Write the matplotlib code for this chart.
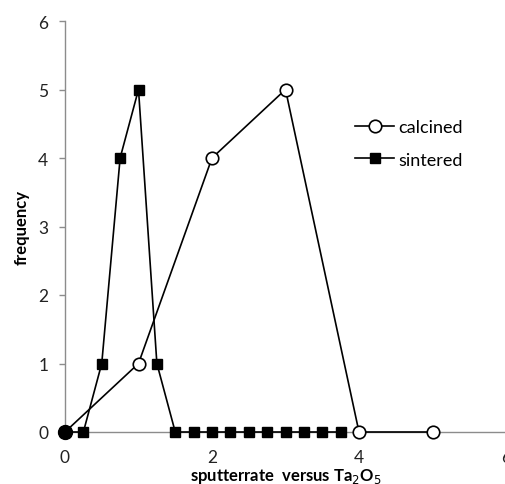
import matplotlib.pyplot as plt

# calcined series
calc_x = [0, 1, 2, 3, 4, 5]
calc_y = [0, 1, 4, 5, 0, 0]

# sintered series
sint_x = [0, 0.25, 0.5, 0.75, 1, 1.25, 1.5, 1.75, 2, 2.25, 2.5, 2.75, 3, 3.25, 3.5, 3.75]
sint_y = [0, 0, 1, 4, 5, 1, 0, 0, 0, 0, 0, 0, 0, 0, 0, 0]

xticks = [0, 2, 4, 6]
yticks = [0, 1, 2, 3, 4, 5, 6]

plt.rcParams['font.family'] = ['Lato', 'DejaVu Sans']

fig = plt.figure(figsize=(5.05, 4.85), dpi=100)
ax = fig.add_axes([65 / 505, 52 / 485, 441 / 505, 411 / 485])

ax.plot(calc_x, calc_y, color='black', lw=1.2, marker='o', ms=9,
        mfc='white', mec='black', mew=1.2, label='calcined', clip_on=False, zorder=3)
ax.plot(sint_x, sint_y, color='black', lw=1.2, marker='s', ms=6.5,
        mfc='black', mec='black', label='sintered', clip_on=False, zorder=4)
# filled point at the origin
ax.plot(calc_x[:1], calc_y[:1], ls='none', marker='o', ms=10, color='black',
        clip_on=False, zorder=5)

ax.set_xlim(0, 6)
ax.set_ylim(0, 6)
ax.set_xticks(xticks)
ax.set_yticks(yticks)

for s in ['top', 'right']:
    ax.spines[s].set_visible(False)
for s in ['left', 'bottom']:
    ax.spines[s].set_color('#8c8c8c')
    ax.spines[s].set_linewidth(1.0)
ax.tick_params(axis='both', colors='#8c8c8c', length=4, width=1.0,
               labelcolor='#222222', labelsize=12.5)
ax.tick_params(axis='x', pad=9, length=3)
ax.tick_params(axis='y', pad=8)

ax.set_xlabel('sputterrate  versus Ta$_2$O$_5$', fontsize=12, fontweight='bold', labelpad=1)
ax.set_ylabel('frequency', fontsize=12, fontweight='bold', labelpad=6)

leg = ax.legend(loc='upper left', bbox_to_anchor=(0.62, 0.80), frameon=False,
                fontsize=13, handlelength=2.2, labelspacing=0.9, handletextpad=0.2)

fig.savefig('out.png', dpi=100)
